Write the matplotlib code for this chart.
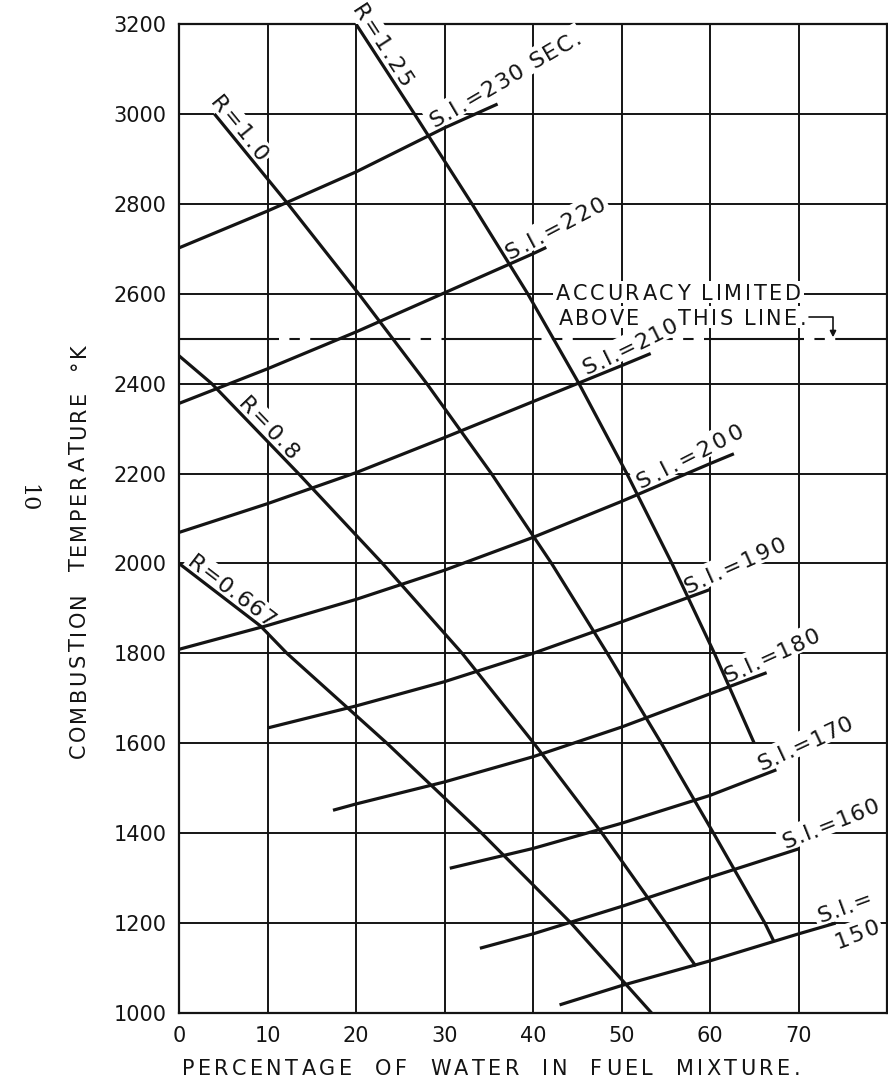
import numpy as np
import matplotlib
matplotlib.use('Agg')
import matplotlib.pyplot as plt
from matplotlib.font_manager import FontProperties
from matplotlib.transforms import IdentityTransform
from matplotlib.patches import Polygon

# --- data ---
# R lines (descending)
r125_x = [20, 26.6, 33.1, 39.4, 45.2, 50.6, 55.7, 60.5, 65.0]
r125_y = [3200, 3000, 2800, 2600, 2400, 2200, 2000, 1800, 1600]
r100_x = [4, 12.3, 20.3, 28.0, 35.3, 42.1, 48.4, 54.5, 60.4, 66.2, 67.2]
r100_y = [3000, 2800, 2600, 2400, 2200, 2000, 1800, 1600, 1400, 1200, 1160]
r080_x = [0, 3.7, 13.5, 23.0, 32.0, 40.1, 47.8, 55.0, 58.4]
r080_y = [2462, 2400, 2200, 2000, 1800, 1600, 1400, 1200, 1104]
r0667_x = [0, 9.2, 12.2, 23.5, 34.2, 44.3, 53.4]
r0667_y = [2000, 1861, 1800, 1600, 1400, 1200, 1000]

# S.I. lines (ascending)
si230_x = [0, 10, 20, 30, 36]
si230_y = [2702, 2784, 2871, 2969, 3022]
si220_x = [0, 10, 20, 30, 40, 41.5]
si220_y = [2356, 2433, 2515, 2602, 2689, 2703]
si210_x = [0, 10, 20, 30, 40, 50, 53.3]
si210_y = [2069, 2133, 2202, 2280, 2360, 2440, 2467]
si200_x = [0, 10, 20, 30, 40, 50, 60, 62.7]
si200_y = [1809, 1862, 1920, 1985, 2058, 2138, 2222, 2244]
si190_x = [10, 20, 30, 40, 50, 60]
si190_y = [1634, 1683, 1737, 1800, 1870, 1942]
si180_x = [17.4, 20, 30, 40, 50, 60, 66.4]
si180_y = [1451, 1465, 1514, 1570, 1636, 1710, 1757]
si170_x = [30.6, 40, 50, 60, 67.5]
si170_y = [1322, 1366, 1422, 1484, 1541]
si160_x = [34, 40, 50, 60, 70]
si160_y = [1144, 1176, 1237, 1302, 1365]
si150_x = [43, 50, 60, 70, 74.2]
si150_y = [1018, 1061, 1116, 1176, 1200]

xticks = [0, 10, 20, 30, 40, 50, 60, 70]
yticks = [1000, 1200, 1400, 1600, 1800, 2000, 2200, 2400, 2600, 2800, 3000, 3200]
limit_y = 2500

W, H = 888, 1084
INK = '#141414'

fig = plt.figure(figsize=(W / 100, H / 100), dpi=100)
ax = fig.add_axes([179 / W, 1 - 1013 / H, 708 / W, 989 / H])
ax.set_xlim(0, 80)
ax.set_ylim(1000, 3200)
ax.set_xticks(xticks)
ax.set_yticks(yticks)
ax.set_axisbelow(True)
ax.grid(True, color=INK, lw=1.4)
ax.axvline(80, color=INK, lw=1.4, zorder=1)
ax.tick_params(length=0, labelsize=15, colors=INK)
ax.tick_params(axis='x', pad=9)
ax.tick_params(axis='y', pad=9)
for sp in ax.spines.values():
    sp.set_color(INK)
    sp.set_linewidth(1.6)

renderer = fig.canvas.get_renderer()


def adv(ch, fs):
    fp = FontProperties(family='DejaVu Sans', size=fs)
    w1 = renderer.get_text_width_height_descent('x' + ch + 'x', fp, ismath=False)[0]
    w0 = renderer.get_text_width_height_descent('xx', fp, ismath=False)[0]
    return w1 - w0


def spaced(p, s, ang, fs, track=0.0, length=None, box=True):
    # draws text char by char (letter spacing), p = baseline start in pixels
    widths = [adv(c, fs) for c in s]
    if length is not None:
        track = (length - sum(widths)) / (len(s) - 1)
    a = np.radians(ang)
    u = np.array([np.cos(a), np.sin(a)])
    n = np.array([-np.sin(a), np.cos(a)])
    p = np.asarray(p, float)
    pos = 0.0
    for c, w in zip(s, widths):
        q = p + u * pos
        ax.text(q[0], q[1], c, transform=IdentityTransform(), rotation=ang,
                rotation_mode='anchor', ha='left', va='baseline', fontsize=fs,
                color=INK, zorder=6, clip_on=False)
        pos += w + track
    total = pos - track
    if box:
        cap = fs * 100 / 72 * 0.74
        pts = [p - u * 3 - n * 3, p + u * (total + 3) - n * 3,
               p + u * (total + 3) + n * (cap + 4), p - u * 3 + n * (cap + 4)]
        ax.add_patch(Polygon(pts, closed=True, transform=IdentityTransform(),
                             fc='white', ec='none', zorder=3, clip_on=False))


def line_angle(xs, ys, x):
    i = int(np.clip(np.searchsorted(xs, x) - 1, 0, len(xs) - 2))
    p0 = ax.transData.transform((xs[i], ys[i]))
    p1 = ax.transData.transform((xs[i + 1], ys[i + 1]))
    return np.degrees(np.arctan2(p1[1] - p0[1], p1[0] - p0[0]))


def curve_label(xs, ys, x, s, fs=15, along=0, perp=3, extra=0, track=2):
    y = np.interp(x, xs, ys)
    ang = line_angle(xs, ys, x) + extra
    a = np.radians(ang)
    u = np.array([np.cos(a), np.sin(a)])
    n = np.array([-np.sin(a), np.cos(a)])
    p = ax.transData.transform((x, y)) + u * along + n * perp
    spaced(p, s, ang, fs, track=track)


r_lines = [(r125_x, r125_y), (r100_x, r100_y), (r080_x, r080_y), (r0667_x, r0667_y)]
si_lines = [(si230_x, si230_y), (si220_x, si220_y), (si210_x, si210_y),
            (si200_x, si200_y), (si190_x, si190_y), (si180_x, si180_y),
            (si170_x, si170_y), (si160_x, si160_y), (si150_x, si150_y)]
for xs, ys in r_lines + si_lines:
    ax.plot(xs, ys, color=INK, lw=2.3, zorder=5, solid_capstyle='butt')

# accuracy limit line
ax.plot([0, 80], [limit_y, limit_y], color=INK, lw=1.5, zorder=2,
        linestyle=(0, (48, 5, 5, 5)))

# labels on R lines
curve_label(r125_x, r125_y, 20.1, 'R=1.25', fs=16, along=-16, perp=3)
curve_label(r100_x, r100_y, 4.0, 'R=1.0', fs=16, along=-12, perp=3)
curve_label(r080_x, r080_y, 6.3, 'R=0.8', fs=16, perp=3)
curve_label(r0667_x, r0667_y, 0.6, 'R=0.667', fs=16, perp=3, track=1)

# labels on S.I. lines
curve_label(si230_x, si230_y, 29.1, 'S.I.=230 SEC.', fs=16, perp=4, extra=4, track=1.5)
curve_label(si220_x, si220_y, 37.6, 'S.I.=220', fs=16, perp=4, extra=4, track=2)
curve_label(si210_x, si210_y, 46.3, 'S.I.=210', fs=16, perp=4, extra=4, track=1)
curve_label(si200_x, si200_y, 52.4, 'S.I.=200', fs=16, perp=4, extra=4, track=3)
curve_label(si190_x, si190_y, 57.6, 'S.I.=190', fs=16, perp=4, extra=4, track=2)
curve_label(si180_x, si180_y, 62.2, 'S.I.=180', fs=16, perp=4, extra=4, track=1)
curve_label(si170_x, si170_y, 66.0, 'S.I.=170', fs=16, perp=4, extra=4, track=1)
curve_label(si160_x, si160_y, 68.7, 'S.I.=160', fs=16, perp=4, extra=4, track=1)
curve_label(si150_x, si150_y, 72.6, 'S.I.=', fs=16, perp=4, extra=4, track=1)
curve_label(si150_x, si150_y, 73.4, '150', fs=16, perp=-25, extra=4, track=2)

# accuracy note
spaced(ax.transData.transform((42.6, 2585)), 'ACCURACY LIMITED', 0, 15, length=245)
spaced(ax.transData.transform((42.9, 2530)), 'ABOVE', 0, 15, length=80)
spaced(ax.transData.transform((56.4, 2530)), 'THIS LINE.', 0, 15, length=128)
ax.annotate('', xy=(73.9, limit_y + 3), xytext=(71.2, 2548),
            arrowprops=dict(arrowstyle='-|>', color=INK, lw=1.2, mutation_scale=9,
                            shrinkA=0, shrinkB=0,
                            connectionstyle='angle,angleA=0,angleB=90,rad=0'),
            zorder=6)

# axis titles, letter spaced like the lettering on the sheet
spaced((182, H - 1075), 'PERCENTAGE  OF  WATER  IN  FUEL  MIXTURE.', 0, 15,
       length=618, box=False)
spaced((85, H - 758), 'COMBUSTION  TEMPERATURE  °K', 90, 15, length=415, box=False)

# page number
fig.text(27 / W, 1 - 498 / H, '10', rotation=-90, family='DejaVu Serif',
         fontsize=16, ha='center', va='center', color=INK)

fig.savefig('out.png', dpi=100)
